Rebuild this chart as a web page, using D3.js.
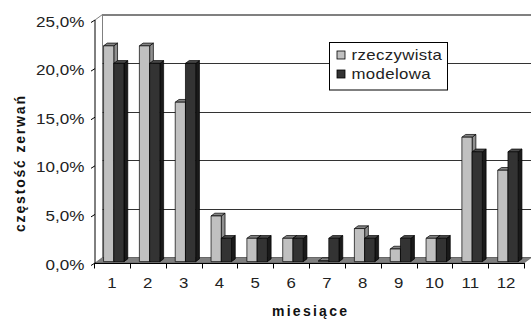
<!DOCTYPE html>
<html><head><meta charset="utf-8">
<script src="https://cdn.jsdelivr.net/npm/d3@7"></script>
<style>body{margin:0;background:#fff}svg{display:block}text{font-family:Arial,"Liberation Sans",sans-serif}</style>
</head><body><svg id="c" width="531" height="320"></svg>
<script>
const months = ["1","2","3","4","5","6","7","8","9","10","11","12"];
const rzeczywista = [22.2, 22.2, 16.4, 4.7, 2.4, 2.4, 0.1, 3.4, 1.3, 2.4, 12.8, 9.4];
const modelowa = [20.4, 20.4, 20.4, 2.4, 2.4, 2.4, 2.4, 2.4, 2.4, 2.4, 11.3, 11.3];
const yTicks = [0, 5, 10, 15, 20, 25];
const yTickLabels = ["0,0%", "5,0%", "10,0%", "15,0%", "20,0%", "25,0%"];
const seriesNames = ["rzeczywista", "modelowa"];

const svg = d3.select("#c");
const DX = 7.5, DY = -5.5;           // full depth offset
const x = d3.scaleBand().domain(months).range([94, 524]);
const y = d3.scaleLinear().domain([0, 25]).range([263, 20]);
const xs = d3.scaleBand().domain(seriesNames).range([0, x.bandwidth()]).paddingInner(0).paddingOuter(0.75);

const line = d3.line();
// left wall
svg.append("path").attr("d", line([[95,y(0)],[95,y(25)],[95+DX,y(25)+DY],[95+DX,y(0)+DY]]) + "Z")
  .attr("fill", "#fff").attr("stroke", "none");
// back wall
const bx0 = 94 + DX + 1, bx1 = 531 + 5;
svg.append("rect").attr("x", bx0).attr("y", y(25) + DY).attr("width", bx1 - bx0).attr("height", y(0) - y(25))
  .attr("fill", "#fff").attr("stroke", "#808080").attr("stroke-width", 1);
// gridlines on back wall
svg.selectAll("line.grid").data(yTicks.filter(t => t > 0)).join("line")
  .attr("x1", bx0).attr("x2", bx1)
  .attr("y1", d => Math.round(y(d) + DY) + 0.5).attr("y2", d => Math.round(y(d) + DY) + 0.5)
  .attr("stroke", d => d === 25 ? "#808080" : "#333").attr("stroke-width", 1);
// floor
svg.append("path").attr("d", line([[95,y(0)],[524,y(0)],[524+DX,y(0)+DY],[95+DX,y(0)+DY]]) + "Z")
  .attr("fill", "#808080").attr("stroke", "#555").attr("stroke-width", 0.6);
// top diagonal edge
svg.append("line").attr("x1", 95).attr("y1", y(25)).attr("x2", 95 + DX).attr("y2", y(25) + DY)
  .attr("stroke", "#808080");

// bars
const f0 = 0.25, f1 = 0.75;
const fx = DX * f0, fy = DY * f0, tx = DX * (f1 - f0), ty = DY * (f1 - f0);
const styles = {
  rzeczywista: {front: "#c0c0c0", top: "#858585", side: "#8f8f8f"},
  modelowa: {front: "#333333", top: "#4a4a4a", side: "#1a1a1a"}
};
const series = [rzeczywista, modelowa];
months.forEach((m, i) => {
  seriesNames.forEach((s, k) => {
    const v = series[k][i];
    const x0 = x(m) + xs(s) + fx, x1 = x0 + xs.bandwidth();
    const yb = y(0) + fy, yt = y(v) + fy;
    const st = styles[s];
    const g = svg.append("g").attr("stroke", "#000").attr("stroke-width", 0.7).attr("stroke-linejoin", "round");
    g.append("path").attr("d", line([[x1,yb],[x1,yt],[x1+tx,yt+ty],[x1+tx,yb+ty]]) + "Z").attr("fill", st.side);
    g.append("path").attr("d", line([[x0,yt],[x1,yt],[x1+tx,yt+ty],[x0+tx,yt+ty]]) + "Z").attr("fill", st.top);
    g.append("rect").attr("x", x0).attr("y", yt).attr("width", x1 - x0).attr("height", yb - yt).attr("fill", st.front);
  });
});

// axes
svg.append("line").attr("x1", 95).attr("x2", 95).attr("y1", y(25)).attr("y2", y(0)).attr("stroke", "#000");
svg.append("line").attr("x1", 95).attr("x2", 524).attr("y1", y(0) + 0.5).attr("y2", y(0) + 0.5).attr("stroke", "#000");
svg.selectAll("line.yt").data(yTicks).join("line")
  .attr("x1", 95).attr("y1", d => y(d)).attr("x2", 91).attr("y2", d => y(d) + 2.5).attr("stroke", "#000");
const bounds = months.map(m => x(m)).concat([x.range()[1]]);
svg.selectAll("line.xt").data(bounds).join("line")
  .attr("x1", d => Math.round(d) + 0.5).attr("x2", d => Math.round(d) + 0.5)
  .attr("y1", y(0)).attr("y2", y(0) + 5.5).attr("stroke", "#000");

svg.selectAll("text.yl").data(yTicks).join("text")
  .attr("transform", d => `translate(84.5,${y(d) + 6.5}) scale(1.22,1)`)
  .attr("text-anchor", "end").attr("font-size", 14).attr("fill", "#222")
  .text((d, i) => yTickLabels[i]);
svg.selectAll("text.xl").data(months).join("text")
  .attr("transform", d => `translate(${x(d) + x.bandwidth() / 2},287.5) scale(1.2,1)`)
  .attr("text-anchor", "middle").attr("font-size", 14).attr("fill", "#222")
  .text(d => d);

// axis titles
svg.append("text").attr("x", 309.5).attr("y", 316).attr("text-anchor", "middle")
  .attr("font-size", 14).attr("font-weight", "bold").attr("fill", "#111")
  .attr("textLength", 75).attr("lengthAdjust", "spacing").text("miesiące");
svg.append("text").attr("transform", "translate(25,164) rotate(-90)").attr("text-anchor", "middle")
  .attr("font-size", 14).attr("font-weight", "bold").attr("fill", "#111")
  .attr("textLength", 136).attr("lengthAdjust", "spacing").text("częstość zerwań");

// legend
const lg = svg.append("g");
lg.append("rect").attr("x", 329.5).attr("y", 42.5).attr("width", 118).attr("height", 47.5)
  .attr("fill", "#fff").attr("stroke", "#000");
seriesNames.forEach((s, k) => {
  const yy = 51 + k * 19;
  lg.append("rect").attr("x", 337).attr("y", yy).attr("width", 8).attr("height", 8)
    .attr("fill", styles[s].front).attr("stroke", "#000").attr("stroke-width", 0.8);
  lg.append("text").attr("transform", `translate(351.5,${yy + 8.5}) scale(1.2,1)`)
    .attr("font-size", 14).attr("fill", "#222").attr("letter-spacing", 0.3).text(s);
});
</script></body></html>
